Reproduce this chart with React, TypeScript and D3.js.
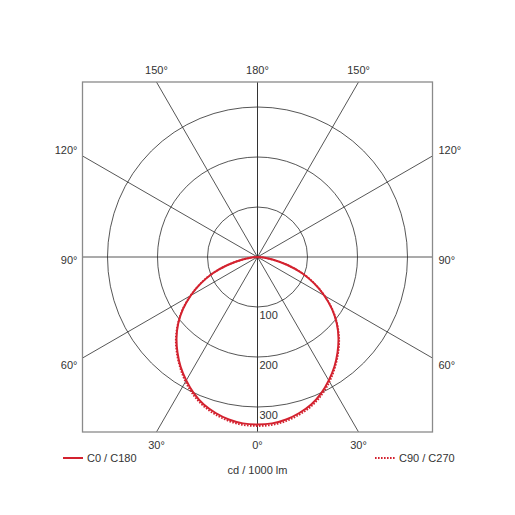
import React from 'react';
import * as d3 from 'd3';

// gamma angles (deg, 0 = straight down) and intensities in cd / 1000 lm
const gammaAngles = [0, 5, 10, 15, 20, 25, 30, 35, 40, 45, 50, 55, 60, 65, 70, 75, 80, 85, 90];
const c0Values = [335, 334, 330, 323, 314, 301, 285, 268, 249, 229, 207, 182, 154, 125, 95, 62, 32, 12, 0];
const c90Values = [338, 337, 333, 326, 317, 304, 288, 270, 251, 231, 208, 183, 155, 126, 96, 62, 32, 12, 0];

const ringValues = [100, 200, 300];
const spokeAngles = [0, 30, 60, 90, 120, 150, 180];
const topLabels = ['150°', '180°', '150°'];
const bottomLabels = ['30°', '0°', '30°'];
const sideLabels = ['120°', '90°', '60°'];

const W = 515;
const cx = 257.5;
const cy = 257;
const half = 175;
const maxCd = 350;

const red = '#d3222f';
const grid = '#2b2b2b';
const textColor = '#333';
const font = '"Liberation Sans", Arial, sans-serif';

export default function App() {
  const r = d3.scaleLinear().domain([0, maxCd]).range([0, half]);
  const toRad = (deg: number) => (deg * Math.PI) / 180;

  // mirror a half-curve onto both sides: gamma -90..90
  const mirror = (vals: number[]) => {
    const pts: [number, number][] = [];
    for (let i = gammaAngles.length - 1; i >= 0; i--) pts.push([-gammaAngles[i], vals[i]]);
    for (let i = 1; i < gammaAngles.length; i++) pts.push([gammaAngles[i], vals[i]]);
    return pts;
  };

  const curve = d3
    .lineRadial<[number, number]>()
    .angle((d) => Math.PI - toRad(d[0]))
    .radius((d) => r(d[1]))
    .curve(d3.curveCatmullRom);

  // spoke end on the square frame
  const spokeEnd = (deg: number, side: number) => {
    const a = toRad(deg);
    const dx = side * Math.sin(a);
    const dy = Math.cos(a);
    const t = half / Math.max(Math.abs(dx), Math.abs(dy));
    return [cx + dx * t, cy + dy * t];
  };

  const sideY = [120, 90, 60].map((d) => spokeEnd(d, -1)[1]);
  const sideOffsets = [-6, 3, 7];
  const topX = [150, 180, 150].map((d, i) => spokeEnd(d, i === 0 ? -1 : 1)[0]);
  const bottomX = [30, 0, 30].map((d, i) => spokeEnd(d, i === 0 ? -1 : 1)[0]);

  return (
    <svg
      width={W}
      height={W}
      style={{ position: 'absolute', left: 0, top: 0, background: '#fff' }}
      fontFamily={font}
      fontSize={11}
    >
      <rect x={0} y={0} width={W} height={W} fill="#fff" />
      {/* rings */}
      {ringValues.map((v) => (
        <circle key={v} cx={cx} cy={cy} r={r(v)} fill="none" stroke={grid} strokeWidth={0.8} />
      ))}
      {/* spokes */}
      {spokeAngles.map((deg) =>
        [-1, 1].map((side) => {
          const [x2, y2] = spokeEnd(deg, side);
          return (
            <line key={`${deg}-${side}`} x1={cx} y1={cy} x2={x2} y2={y2} stroke={grid} strokeWidth={0.8} />
          );
        })
      )}
      {/* frame */}
      <rect x={cx - half} y={cy - half} width={half * 2} height={half * 2} fill="none" stroke="#8a8a8a" strokeWidth={1.3} />

      {/* intensity curves */}
      <g transform={`translate(${cx},${cy})`}>
        <path d={curve(mirror(c90Values)) || ''} fill="none" stroke={red} strokeWidth={1.8} strokeDasharray="1.6 1.4" />
        <path d={curve(mirror(c0Values)) || ''} fill="none" stroke={red} strokeWidth={2} />
      </g>

      {/* ring labels */}
      {ringValues.map((v) => (
        <text key={v} x={cx + 2} y={cy + r(v) + 8} dy="0.35em" fill={textColor}>
          {v}
        </text>
      ))}

      {/* angle labels */}
      {topLabels.map((t, i) => (
        <text key={`t${i}`} x={topX[i]} y={cy - half - 12} dy="0.35em" textAnchor="middle" fill={textColor}>
          {t}
        </text>
      ))}
      {bottomLabels.map((t, i) => (
        <text key={`b${i}`} x={bottomX[i]} y={cy + half + 13} dy="0.35em" textAnchor="middle" fill={textColor}>
          {t}
        </text>
      ))}
      {sideLabels.map((t, i) => (
        <g key={`s${i}`}>
          <text x={cx - half - 5} y={sideY[i] + sideOffsets[i]} dy="0.35em" textAnchor="end" fill={textColor}>
            {t}
          </text>
          <text x={cx + half + 6} y={sideY[i] + sideOffsets[i]} dy="0.35em" textAnchor="start" fill={textColor}>
            {t}
          </text>
        </g>
      ))}

      {/* legend */}
      <line x1={63} x2={83} y1={458} y2={458} stroke={red} strokeWidth={2} />
      <text x={87} y={458} dy="0.35em" fill={textColor}>C0 / C180</text>
      <line x1={375} x2={396} y1={458} y2={458} stroke={red} strokeWidth={1.8} strokeDasharray="1.6 1.4" />
      <text x={399} y={458} dy="0.35em" fill={textColor}>C90 / C270</text>
      <text x={cx} y={470} dy="0.35em" textAnchor="middle" fill={textColor}>cd / 1000 lm</text>
    </svg>
  );
}
